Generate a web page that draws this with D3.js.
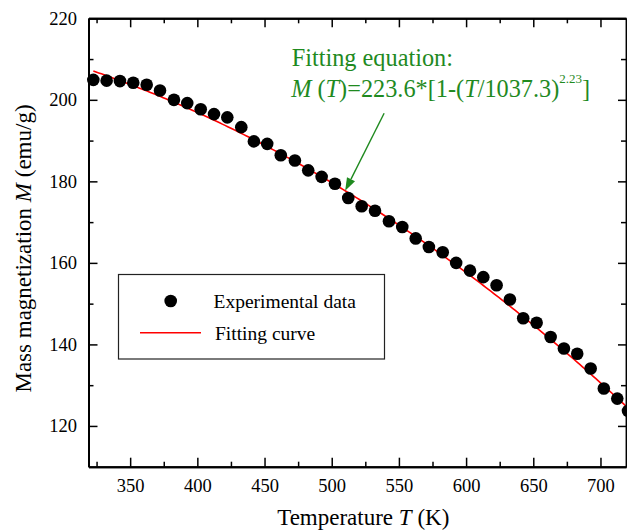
<!DOCTYPE html>
<html>
<head>
<meta charset="utf-8">
<script src="https://cdn.jsdelivr.net/npm/d3@7"></script>
<style>
  html, body { margin: 0; padding: 0; background: #fff; }
  svg { display: block; }
  svg text { font-family: "Liberation Serif", "Tinos", "Times New Roman", Times, "DejaVu Serif", serif; }
</style>
</head>
<body>
<svg id="chart" width="627" height="532"></svg>
<script>
// Measured magnetization vs temperature
const temperature = [322.6, 332.5, 342.4, 352.3, 362.3, 372.2, 382.6, 392.5, 402.5, 412.4,
  422.3, 432.7, 442.1, 452.0, 462.1, 472.6, 482.5, 492.5, 502.4, 512.3,
  522.3, 532.2, 542.6, 552.5, 562.5, 572.3, 582.6, 592.6, 602.9, 612.8,
  622.7, 632.6, 642.5, 652.5, 662.9, 672.8, 682.7, 692.7, 702.5, 712.5, 720.5];
const magnetization = [204.9, 204.7, 204.6, 204.2, 203.7, 202.3, 200.0, 199.2, 197.7, 196.5,
  195.7, 193.3, 189.8, 189.2, 186.4, 185.1, 182.7, 181.1, 179.4, 175.9,
  173.9, 172.8, 170.2, 168.8, 166.0, 163.9, 162.6, 160.0, 158.1, 156.5,
  154.5, 151.0, 146.4, 145.3, 141.8, 139.0, 137.7, 134.1, 129.2, 126.7, 123.7];

// Fit parameters: M(T) = Ms * [1 - (T/Tc)^n]
const fitMs = 223.6;
const fitTc = 1037.3;
const fitN = 2.23;

// Axis ticks
const xMajorTicks = [350, 400, 450, 500, 550, 600, 650, 700];
const xMinorTicks = [325, 375, 425, 475, 525, 575, 625, 675];
const yMajorTicks = [120, 140, 160, 180, 200, 220];
const yMinorTicks = [130, 150, 170, 190, 210];

const xDomain = [319, 719];
const yDomain = [110, 220];

const plot = { left: 88.5, top: 18.3, right: 626, bottom: 466.7 };
const green = "#1f8a1f";
const serif = "'Liberation Serif', 'Tinos', 'Times New Roman', Times, 'DejaVu Serif', serif";

const svg = d3.select("#chart");

const x = d3.scaleLinear().domain(xDomain).range([plot.left, plot.right]);
const y = d3.scaleLinear().domain(yDomain).range([plot.bottom, plot.top]);

const fitM = t => fitMs * (1 - Math.pow(t / fitTc, fitN));

svg.append("defs").append("clipPath").attr("id", "plotClip")
  .append("rect")
  .attr("x", plot.left).attr("y", plot.top)
  .attr("width", plot.right - plot.left).attr("height", plot.bottom - plot.top);

// Fitting curve
const curveT = d3.range(temperature[0], xDomain[1] + 0.5, 2);
svg.append("path")
  .datum(curveT)
  .attr("clip-path", "url(#plotClip)")
  .attr("fill", "none")
  .attr("stroke", "#ff0000")
  .attr("stroke-width", 1.6)
  .attr("d", d3.line().x(t => x(t)).y(t => y(fitM(t))));

// Experimental points
svg.append("g").selectAll("circle")
  .data(temperature.map((t, i) => [t, magnetization[i]]))
  .join("circle")
  .attr("cx", d => x(d[0]))
  .attr("cy", d => y(d[1]))
  .attr("r", 6.3)
  .attr("fill", "#000");

// Axes: ticks pointing inward on all four sides
function styleAxis(g, width) {
  g.attr("font-family", serif);
  g.select(".domain").attr("stroke", "#000").attr("stroke-width", width);
  g.selectAll(".tick line").attr("stroke", "#000").attr("stroke-width", 1.5);
  g.selectAll(".tick text").attr("fill", "#000")
    .style("font-family", serif)
    .style("font-size", "18.5px");
}

const gx = svg.append("g").attr("transform", `translate(0,${plot.bottom})`)
  .call(d3.axisBottom(x).tickValues(xMajorTicks).tickSizeInner(-9).tickSizeOuter(0).tickPadding(12).tickFormat(d3.format("d")));
styleAxis(gx, 2);
svg.append("g").attr("transform", `translate(0,${plot.bottom})`)
  .call(d3.axisBottom(x).tickValues(xMinorTicks).tickSizeInner(-5).tickSizeOuter(0).tickFormat(""))
  .call(g => styleAxis(g, 2));

svg.append("g").attr("transform", `translate(0,${plot.top})`)
  .call(d3.axisTop(x).tickValues(xMajorTicks).tickSizeInner(-9).tickSizeOuter(0).tickFormat(""))
  .call(g => styleAxis(g, 2));
svg.append("g").attr("transform", `translate(0,${plot.top})`)
  .call(d3.axisTop(x).tickValues(xMinorTicks).tickSizeInner(-5).tickSizeOuter(0).tickFormat(""))
  .call(g => styleAxis(g, 2));

const gy = svg.append("g").attr("transform", `translate(${plot.left},0)`)
  .call(d3.axisLeft(y).tickValues(yMajorTicks).tickSizeInner(-9).tickSizeOuter(0).tickPadding(11.5).tickFormat(d3.format("d")));
styleAxis(gy, 2);
svg.append("g").attr("transform", `translate(${plot.left},0)`)
  .call(d3.axisLeft(y).tickValues(yMinorTicks).tickSizeInner(-5).tickSizeOuter(0).tickFormat(""))
  .call(g => styleAxis(g, 2));

svg.append("g").attr("transform", `translate(${plot.right},0)`)
  .call(d3.axisRight(y).tickValues(yMajorTicks).tickSizeInner(-8).tickSizeOuter(0).tickFormat(""))
  .call(g => styleAxis(g, 1.5));
svg.append("g").attr("transform", `translate(${plot.right},0)`)
  .call(d3.axisRight(y).tickValues(yMinorTicks).tickSizeInner(-5).tickSizeOuter(0).tickFormat(""))
  .call(g => styleAxis(g, 1.5));

// Axis titles
const xTitle = svg.append("text")
  .attr("x", (plot.left + plot.right) / 2 + 6)
  .attr("y", 525)
  .attr("text-anchor", "middle")
  .style("font-family", serif)
  .style("font-size", "23px")
  .attr("fill", "#000");
xTitle.append("tspan").text("Temperature ");
xTitle.append("tspan").attr("font-style", "italic").text("T");
xTitle.append("tspan").text(" (K)");

const yTitle = svg.append("text")
  .attr("transform", `translate(31,${(plot.top + plot.bottom) / 2 + 6}) rotate(-90)`)
  .attr("text-anchor", "middle")
  .style("font-family", serif)
  .style("font-size", "23px")
  .attr("fill", "#000");
yTitle.append("tspan").text("Mass magnetization ");
yTitle.append("tspan").attr("font-style", "italic").text("M");
yTitle.append("tspan").text(" (emu/g)");

// Legend
const legend = svg.append("g");
legend.append("rect")
  .attr("x", 118.5).attr("y", 274.5)
  .attr("width", 266).attr("height", 84.5)
  .attr("fill", "#fff")
  .attr("stroke", "#222")
  .attr("stroke-width", 1.2);
legend.append("circle")
  .attr("cx", 170.7).attr("cy", 301).attr("r", 6.3).attr("fill", "#000");
legend.append("text")
  .attr("x", 213.5).attr("y", 307.5)
  .style("font-family", serif)
  .style("font-size", "19.5px").attr("fill", "#000")
  .text("Experimental data");
legend.append("line")
  .attr("x1", 140).attr("x2", 201).attr("y1", 332.7).attr("y2", 332.7)
  .attr("stroke", "#ff0000").attr("stroke-width", 1.6);
legend.append("text")
  .attr("x", 215).attr("y", 339.5)
  .style("font-family", serif)
  .style("font-size", "19.5px").attr("fill", "#000")
  .text("Fitting curve");

// Fit equation annotation
const noteT = 470.2;
svg.append("text")
  .attr("x", x(noteT)).attr("y", y(208.3))
  .style("font-family", serif)
  .style("font-size", "24.3px").attr("fill", green)
  .text("Fitting equation:");

const note2 = svg.append("text")
  .attr("x", x(noteT) - 0.5).attr("y", y(200.6))
  .style("font-family", serif)
  .style("font-size", "24.3px").attr("fill", green);
note2.append("tspan").attr("font-style", "italic").text("M");
note2.append("tspan").text(" (");
note2.append("tspan").attr("font-style", "italic").text("T");
note2.append("tspan").text(`)=${fitMs}*[1-(`);
note2.append("tspan").attr("font-style", "italic").text("T");
note2.append("tspan").text(`/${fitTc})`);
note2.append("tspan").attr("dy", -14).style("font-size", "13px").text(`${fitN}`);
note2.append("tspan").attr("dy", 14).style("font-size", "24.3px").text("]");

// Arrow pointing at the fitted curve
const arrowFromT = 539, arrowFromM = 196.7;
const arrowToT = 510;
const ax0 = x(arrowFromT), ay0 = y(arrowFromM);
const ax1 = x(arrowToT), ay1 = y(fitM(arrowToT));
const ang = Math.atan2(ay1 - ay0, ax1 - ax0);
const headLen = 13, headHalf = 4.5;
const bx = ax1 - headLen * Math.cos(ang), by = ay1 - headLen * Math.sin(ang);
svg.append("line")
  .attr("x1", ax0).attr("y1", ay0).attr("x2", bx).attr("y2", by)
  .attr("stroke", green).attr("stroke-width", 1.4);
svg.append("path")
  .attr("d", d3.line()([
    [ax1, ay1],
    [bx + headHalf * Math.sin(ang), by - headHalf * Math.cos(ang)],
    [bx - headHalf * Math.sin(ang), by + headHalf * Math.cos(ang)]
  ]) + "Z")
  .attr("fill", green);
</script>
</body>
</html>
